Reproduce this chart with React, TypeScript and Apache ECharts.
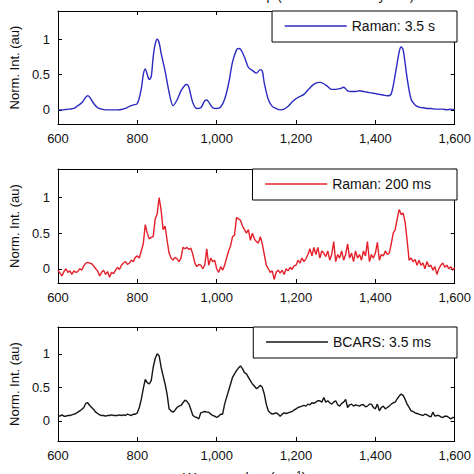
import React, { useEffect, useRef } from "react";
import * as echarts from "echarts";

const xTicks = [600, 800, 1000, 1200, 1400, 1600];
const yTickValues = [0, 0.5, 1];

const seriesNames = ["Raman: 3.5 s", "Raman: 200 ms", "BCARS: 3.5 ms"];
const seriesColors = ["#2a2ac0", "#e4202a", "#151515"];

const blueX = [600, 610, 620, 630, 640, 650, 660, 670, 675, 680, 690, 700, 710, 720, 730, 740, 750, 760, 770, 780, 790, 800, 810, 815, 820, 825, 830, 835, 840, 845, 850, 855, 860, 870, 880, 890, 900, 910, 920, 925, 930, 940, 950, 960, 970, 975, 980, 990, 1000, 1010, 1020, 1030, 1040, 1050, 1055, 1060, 1070, 1080, 1090, 1100, 1110, 1115, 1120, 1130, 1140, 1150, 1160, 1170, 1180, 1190, 1200, 1210, 1220, 1230, 1240, 1250, 1260, 1270, 1280, 1290, 1300, 1310, 1320, 1330, 1340, 1350, 1360, 1370, 1380, 1390, 1400, 1410, 1420, 1430, 1440, 1450, 1460, 1465, 1470, 1480, 1490, 1500, 1510, 1520, 1530, 1540, 1550, 1560, 1570, 1580, 1590, 1600];
const blueY = [0.0, 0.0, 0.005, 0.01, 0.02, 0.06, 0.1, 0.18, 0.2, 0.18, 0.09, 0.03, 0.01, 0.0, 0.0, 0.0, 0.0, 0.005, 0.02, 0.05, 0.07, 0.09, 0.3, 0.5, 0.58, 0.5, 0.43, 0.47, 0.75, 0.93, 1.0, 0.95, 0.8, 0.55, 0.25, 0.06, 0.14, 0.27, 0.35, 0.36, 0.32, 0.1, 0.02, 0.03, 0.13, 0.14, 0.11, 0.03, 0.02, 0.04, 0.15, 0.37, 0.68, 0.85, 0.87, 0.86, 0.75, 0.6, 0.56, 0.52, 0.57, 0.55, 0.38, 0.15, 0.05, 0.02, 0.0, 0.01, 0.05, 0.11, 0.16, 0.19, 0.22, 0.28, 0.34, 0.38, 0.39, 0.37, 0.33, 0.29, 0.29, 0.3, 0.32, 0.27, 0.26, 0.26, 0.27, 0.26, 0.25, 0.24, 0.23, 0.22, 0.21, 0.2, 0.23, 0.5, 0.82, 0.89, 0.85, 0.45, 0.15, 0.07, 0.04, 0.03, 0.02, 0.02, 0.01, 0.01, 0.01, 0.0, 0.01, 0.0];

// red and black series sampled every 5 cm-1 from 600 to 1600
const stepX = [600, 605, 610, 615, 620, 625, 630, 635, 640, 645, 650, 655, 660, 665, 670, 675, 680, 685, 690, 695, 700, 705, 710, 715, 720, 725, 730, 735, 740, 745, 750, 755, 760, 765, 770, 775, 780, 785, 790, 795, 800, 805, 810, 815, 820, 825, 830, 835, 840, 845, 850, 855, 860, 865, 870, 875, 880, 885, 890, 895, 900, 905, 910, 915, 920, 925, 930, 935, 940, 945, 950, 955, 960, 965, 970, 975, 980, 985, 990, 995, 1000, 1005, 1010, 1015, 1020, 1025, 1030, 1035, 1040, 1045, 1050, 1055, 1060, 1065, 1070, 1075, 1080, 1085, 1090, 1095, 1100, 1105, 1110, 1115, 1120, 1125, 1130, 1135, 1140, 1145, 1150, 1155, 1160, 1165, 1170, 1175, 1180, 1185, 1190, 1195, 1200, 1205, 1210, 1215, 1220, 1225, 1230, 1235, 1240, 1245, 1250, 1255, 1260, 1265, 1270, 1275, 1280, 1285, 1290, 1295, 1300, 1305, 1310, 1315, 1320, 1325, 1330, 1335, 1340, 1345, 1350, 1355, 1360, 1365, 1370, 1375, 1380, 1385, 1390, 1395, 1400, 1405, 1410, 1415, 1420, 1425, 1430, 1435, 1440, 1445, 1450, 1455, 1460, 1465, 1470, 1475, 1480, 1485, 1490, 1495, 1500, 1505, 1510, 1515, 1520, 1525, 1530, 1535, 1540, 1545, 1550, 1555, 1560, 1565, 1570, 1575, 1580, 1585, 1590, 1595, 1600];

const redY = [
  -0.02, -0.06, -0.1, -0.04, 0.0, -0.05, -0.03, -0.08, -0.03, -0.05,
  -0.04, 0.0, -0.02, 0.04, 0.08, 0.09, 0.08, 0.07, 0.04, 0.0,
  -0.03, -0.1, -0.05, -0.02, -0.08, -0.04, -0.12, -0.05, -0.07, -0.02,
  0.02, -0.01, 0.05, 0.08, 0.1, 0.06, 0.08, 0.12, 0.1, 0.16,
  0.18, 0.15, 0.25, 0.35, 0.62, 0.5, 0.42, 0.44, 0.45, 0.7,
  0.77, 1.0, 0.82, 0.55, 0.6, 0.4, 0.22, 0.15, 0.12, 0.16,
  0.14, 0.1, 0.15, 0.3, 0.28, 0.3, 0.27, 0.29, 0.2, 0.08,
  0.03, 0.06, 0.05, 0.0, 0.05, 0.28, 0.05, 0.15, 0.1, 0.12,
  0.0, -0.05, 0.03, -0.02, 0.05, 0.15, 0.25, 0.32, 0.45, 0.47,
  0.72, 0.7, 0.68, 0.6, 0.55, 0.5, 0.55, 0.4, 0.5, 0.42,
  0.38, 0.36, 0.45, 0.35, 0.2, 0.05, 0.0, -0.05, -0.03, -0.15,
  -0.05, -0.02, -0.06, -0.02, -0.08, 0.0, -0.03, 0.02, -0.01, 0.04,
  0.05, 0.12, 0.08, 0.15, 0.1, 0.14, 0.2, 0.28, 0.18, 0.3,
  0.2, 0.3, 0.15, 0.25, 0.22, 0.17, 0.25, 0.12, 0.2, 0.38,
  0.1, 0.2, 0.15, 0.25, 0.12, 0.2, 0.35, 0.15, 0.22, 0.1,
  0.25, 0.15, 0.2, 0.12, 0.25, 0.18, 0.38, 0.1, 0.2, 0.15,
  0.22, 0.37, 0.12, 0.2, 0.18, 0.25, 0.2, 0.22, 0.35, 0.5,
  0.55, 0.7, 0.83, 0.76, 0.78, 0.65, 0.4, 0.12, 0.15, 0.1,
  0.13, 0.05, 0.12, 0.05, 0.08, 0.0, 0.1, 0.03, 0.05, -0.02,
  0.03, -0.08, 0.0, 0.05, 0.08, 0.02, 0.05, 0.0, 0.03, -0.02,
  0.02,
];

const blackY = [
  0.08, 0.07, 0.09, 0.07, 0.07, 0.08, 0.08, 0.09, 0.1, 0.11,
  0.13, 0.15, 0.17, 0.2, 0.26, 0.27, 0.23, 0.2, 0.17, 0.13,
  0.11, 0.09, 0.08, 0.08, 0.07, 0.08, 0.08, 0.09, 0.08, 0.08,
  0.08, 0.09, 0.08, 0.09, 0.08, 0.1, 0.09, 0.08, 0.1, 0.1,
  0.12, 0.2, 0.32, 0.48, 0.62, 0.57, 0.55, 0.6, 0.8, 0.93,
  1.0, 0.97, 0.8, 0.67, 0.55, 0.4, 0.18, 0.15, 0.13, 0.16,
  0.2, 0.22, 0.23, 0.27, 0.31, 0.29, 0.25, 0.17, 0.08, 0.06,
  0.05, 0.03, 0.12, 0.13, 0.14, 0.13, 0.13, 0.1, 0.08, 0.07,
  0.05, 0.07, 0.1, 0.1, 0.25, 0.35, 0.45, 0.55, 0.65, 0.7,
  0.75, 0.79, 0.82, 0.78, 0.72, 0.7, 0.65, 0.6, 0.55, 0.52,
  0.48, 0.5, 0.53, 0.5, 0.4, 0.25, 0.15, 0.12, 0.1, 0.11,
  0.12, 0.1, 0.07, 0.1, 0.12, 0.11, 0.12, 0.13, 0.14, 0.16,
  0.18, 0.2, 0.21, 0.22, 0.23, 0.22, 0.25, 0.24, 0.27, 0.26,
  0.28, 0.3, 0.3, 0.28, 0.35, 0.28, 0.3, 0.27, 0.25, 0.28,
  0.3, 0.24, 0.22, 0.26, 0.28, 0.32, 0.2, 0.24, 0.25, 0.22,
  0.24, 0.23, 0.22, 0.24, 0.24, 0.21, 0.22, 0.25, 0.25, 0.2,
  0.18, 0.25, 0.15, 0.2, 0.22, 0.18, 0.2, 0.22, 0.25, 0.27,
  0.28, 0.33, 0.37, 0.4, 0.38, 0.32, 0.25, 0.2, 0.15, 0.14,
  0.12, 0.11, 0.1, 0.09, 0.08, 0.1, 0.09, 0.07, 0.06, 0.13,
  0.07, 0.08, 0.08, 0.06, 0.05, 0.07, 0.07, 0.05, 0.03, 0.05,
  0.05,
];

const yMins = [-0.2, -0.2, -0.3];
const yMax = 1.4;

const FONT = "Arial, 'Liberation Sans', sans-serif";

export default function App() {
  const ref = useRef<HTMLDivElement>(null);

  useEffect(() => {
    if (!ref.current) return;
    const chart = echarts.init(ref.current, null, { renderer: "svg" });

    const grids = [
      { left: 48, right: 17, top: 11, height: 113 },
      { left: 48, right: 17, top: 169, height: 114 },
      { left: 48, right: 17, top: 327, height: 114 },
    ];

    const lineStyleAxis = { show: true, onZero: false, lineStyle: { color: "#000", width: 1 } };
    const tick = { show: true, inside: true, length: 4, lineStyle: { color: "#000" } };

    const xAxes: any[] = [];
    const yAxes: any[] = [];
    grids.forEach((_, i) => {
      xAxes.push({
        type: "value",
        gridIndex: i,
        position: "bottom",
        min: xTicks[0],
        max: xTicks[xTicks.length - 1],
        interval: 200,
        axisLine: lineStyleAxis,
        axisTick: tick,
        splitLine: { show: false },
        axisLabel: {
          show: true,
          margin: 8,
          fontSize: 13,
          color: "#111",
          fontFamily: FONT,
          formatter: (v: number) => v.toLocaleString("en-US"),
        },
      });
      xAxes.push({
        type: "value",
        gridIndex: i,
        position: "top",
        min: xTicks[0],
        max: xTicks[xTicks.length - 1],
        interval: 200,
        axisLine: lineStyleAxis,
        axisTick: tick,
        splitLine: { show: false },
        axisLabel: { show: false },
      });
      yAxes.push({
        type: "value",
        gridIndex: i,
        position: "left",
        min: yMins[i],
        max: yMax,
        axisLine: lineStyleAxis,
        axisTick: { ...tick, customValues: yTickValues },
        splitLine: { show: false },
        axisLabel: {
          show: true,
          customValues: yTickValues,
          margin: 8,
          fontSize: 13,
          color: "#111",
          fontFamily: FONT,
          formatter: (v: number) => String(v),
        },
        name: "Norm. Int. (au)",
        nameLocation: "middle",
        nameGap: 36,
        nameRotate: 90,
        nameTextStyle: { fontSize: 13, color: "#111", fontFamily: FONT },
      });
      yAxes.push({
        type: "value",
        gridIndex: i,
        position: "right",
        min: yMins[i],
        max: yMax,
        axisLine: lineStyleAxis,
        axisTick: { ...tick, customValues: yTickValues },
        splitLine: { show: false },
        axisLabel: { show: false },
      });
    });

    const datasets = [
      blueX.map((x, k) => [x, blueY[k]]),
      stepX.map((x, k) => [x, redY[k]]),
      stepX.map((x, k) => [x, blackY[k]]),
    ];

    const series = datasets.map((d, i) => ({
      name: seriesNames[i],
      type: "line",
      xAxisIndex: i * 2,
      yAxisIndex: i * 2,
      data: d,
      symbol: "none",
      smooth: i === 0 ? 0.3 : false,
      lineStyle: { color: seriesColors[i], width: 1.4 },
      itemStyle: { color: seriesColors[i] },
    }));

    const legendTops = [11, 169, 327];
    const legendPadRight = [22, 26, 26];
    const legends = seriesNames.map((n, i) => ({
      data: [n],
      right: 17,
      top: legendTops[i],
      orient: "horizontal",
      padding: [8, legendPadRight[i], 9, 12],
      itemWidth: 62,
      itemHeight: 14,
      borderColor: "#000",
      borderWidth: 1,
      borderRadius: 0,
      backgroundColor: "#fff",
      selectedMode: false,
      textStyle: { fontSize: 14, color: "#111", fontFamily: FONT },
      itemStyle: { opacity: 0 },
      lineStyle: { width: 1.4 },
    }));

    chart.setOption({
      animation: false,
      backgroundColor: "#fff",
      grid: grids,
      xAxis: xAxes,
      yAxis: yAxes,
      series,
      legend: legends,
      graphic: [
        {
          type: "text",
          x: 414,
          y: -11,
          style: {
            text: "Raman Setup (dried whole cell: yeast)",
            fontSize: 13,
            fill: "#111",
            fontFamily: FONT,
            align: "right",
            verticalAlign: "top",
          },
        },
        {
          type: "text",
          left: 183,
          top: 470,
          style: {
            text: "Wavenumber (cm{sup|-1})",
            fontSize: 14,
            fill: "#111",
            fontFamily: FONT,
            rich: { sup: { fontSize: 10, verticalAlign: "top", padding: [0, 0, 6, 0] } },
          },
        },
      ],
    });

    return () => chart.dispose();
  }, []);

  return (
    <div
      ref={ref}
      style={{ position: "fixed", left: 0, top: 0, width: 474, height: 474 }}
    />
  );
}
